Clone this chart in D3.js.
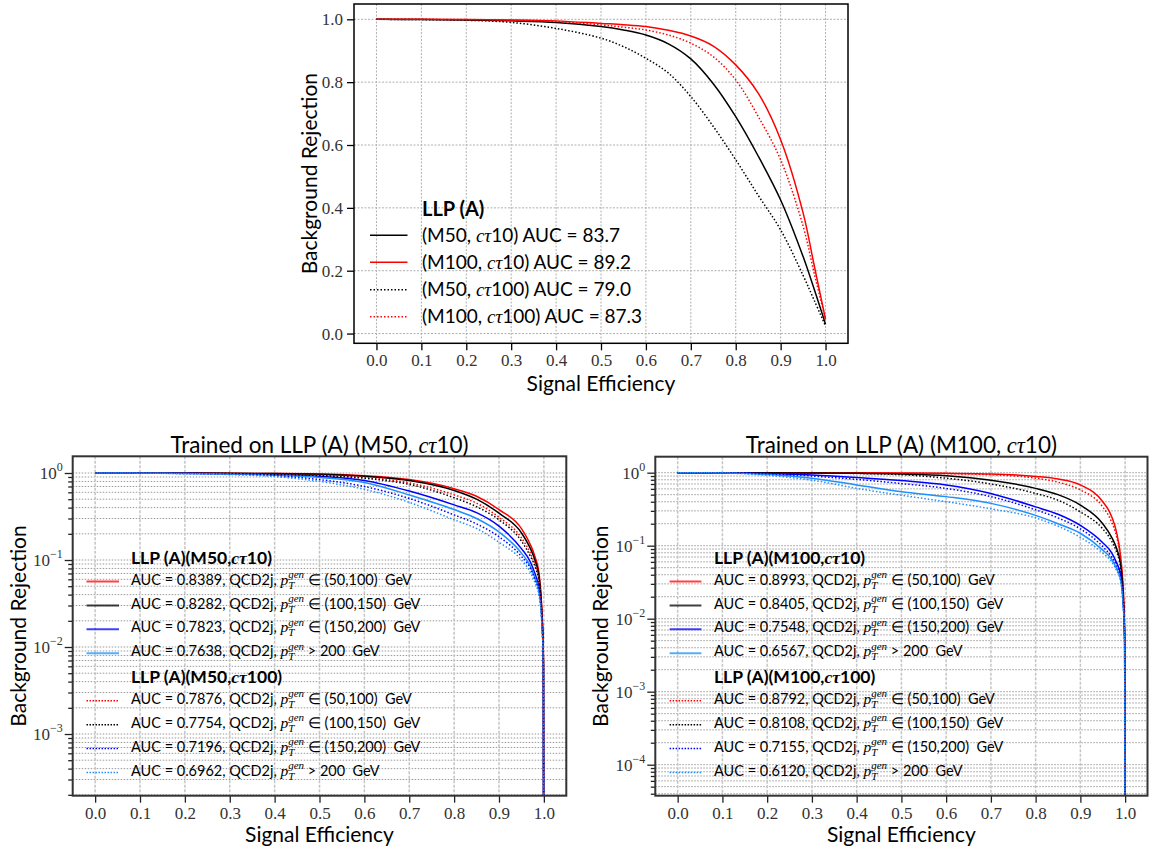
<!DOCTYPE html>
<html><head><meta charset="utf-8">
<script src="https://cdn.jsdelivr.net/npm/d3@7"></script>
<style>body{margin:0;background:#fff}svg text{white-space:pre}</style>
</head><body>
<svg id="c" width="1153" height="850" xmlns="http://www.w3.org/2000/svg"></svg>
<script>
const SANS = "Lato, 'Open Sans', sans-serif";
const SERIF = "'Liberation Serif', 'DejaVu Serif', serif";

// ---------- data: top panel ----------
const effTop = [0, 0.1, 0.2, 0.3, 0.4, 0.5, 0.55, 0.6, 0.65, 0.7, 0.75, 0.8, 0.85, 0.9, 0.95, 0.975, 1.0];
const rejM50ct10  = [1, 0.999, 0.998, 0.995, 0.99, 0.977, 0.966, 0.95, 0.922, 0.874, 0.795, 0.69, 0.565, 0.425, 0.245, 0.14, 0.03];
const rejM100ct10 = [1, 1, 0.999, 0.998, 0.995, 0.987, 0.983, 0.977, 0.965, 0.947, 0.915, 0.855, 0.765, 0.617, 0.384, 0.215, 0.045];
const rejM50ct100 = [1, 0.999, 0.997, 0.99, 0.971, 0.94, 0.913, 0.876, 0.829, 0.754, 0.659, 0.553, 0.44, 0.33, 0.185, 0.105, 0.024];
const rejM100ct100= [1, 1, 0.999, 0.997, 0.993, 0.982, 0.975, 0.966, 0.95, 0.924, 0.881, 0.807, 0.691, 0.553, 0.342, 0.19, 0.045];
const topLabels = [["(M50, ", "cτ", "10) AUC = 83.7"], ["(M100, ", "cτ", "10) AUC = 89.2"], ["(M50, ", "cτ", "100) AUC = 79.0"], ["(M100, ", "cτ", "100) AUC = 87.3"]];
const topTicksX = [0, 0.1, 0.2, 0.3, 0.4, 0.5, 0.6, 0.7, 0.8, 0.9, 1.0];
const topTicksY = [0, 0.2, 0.4, 0.6, 0.8, 1.0];

// ---------- data: bottom panels ----------
const effBot = [0, 0.1, 0.2, 0.3, 0.4, 0.5, 0.6, 0.7, 0.8, 0.85, 0.9, 0.95, 0.97, 0.98, 0.99, 0.995, 0.999, 1.0];
// trained on M50 ct10
const m50_ct10_pt50  = [1, 0.999, 0.997, 0.993, 0.986, 0.972, 0.93, 0.84, 0.66, 0.54, 0.38, 0.23, 0.15, 0.11, 0.065, 0.03, 0.008, 1e-7];
const m50_ct10_pt100 = [1, 0.999, 0.997, 0.992, 0.984, 0.968, 0.92, 0.82, 0.63, 0.50, 0.345, 0.205, 0.135, 0.10, 0.06, 0.028, 0.007, 1e-7];
const m50_ct10_pt150 = [1, 0.998, 0.993, 0.982, 0.96, 0.915, 0.82, 0.62, 0.43, 0.35, 0.245, 0.135, 0.095, 0.07, 0.045, 0.024, 0.006, 1e-7];
const m50_ct10_pt200 = [1, 0.997, 0.99, 0.975, 0.945, 0.89, 0.78, 0.56, 0.38, 0.30, 0.21, 0.12, 0.085, 0.063, 0.04, 0.022, 0.006, 1e-7];
const m50_ct100_pt50  = [1, 0.998, 0.994, 0.986, 0.972, 0.945, 0.89, 0.77, 0.56, 0.45, 0.31, 0.18, 0.12, 0.09, 0.055, 0.027, 0.007, 1e-7];
const m50_ct100_pt100 = [1, 0.998, 0.993, 0.984, 0.967, 0.935, 0.87, 0.74, 0.52, 0.41, 0.29, 0.165, 0.11, 0.085, 0.052, 0.026, 0.007, 1e-7];
const m50_ct100_pt150 = [1, 0.997, 0.988, 0.97, 0.93, 0.84, 0.70, 0.51, 0.33, 0.26, 0.185, 0.11, 0.08, 0.06, 0.04, 0.022, 0.006, 1e-7];
const m50_ct100_pt200 = [1, 0.996, 0.985, 0.96, 0.91, 0.80, 0.65, 0.46, 0.29, 0.23, 0.16, 0.10, 0.072, 0.055, 0.037, 0.02, 0.006, 1e-7];
// trained on M100 ct10
const m100_ct10_pt50  = [1, 1, 0.999, 0.998, 0.995, 0.99, 0.98, 0.96, 0.89, 0.82, 0.68, 0.40, 0.25, 0.16, 0.07, 0.03, 0.006, 1e-7];
const m100_ct10_pt100 = [1, 0.999, 0.997, 0.993, 0.985, 0.96, 0.91, 0.79, 0.61, 0.50, 0.36, 0.20, 0.13, 0.095, 0.055, 0.025, 0.005, 1e-7];
const m100_ct10_pt150 = [1, 0.998, 0.975, 0.93, 0.86, 0.78, 0.68, 0.52, 0.34, 0.27, 0.19, 0.11, 0.08, 0.06, 0.04, 0.02, 0.005, 1e-7];
const m100_ct10_pt200 = [1, 0.995, 0.95, 0.84, 0.68, 0.55, 0.47, 0.38, 0.26, 0.20, 0.148, 0.087, 0.065, 0.05, 0.034, 0.018, 0.005, 1e-7];
const m100_ct100_pt50  = [1, 1, 0.999, 0.997, 0.993, 0.985, 0.97, 0.94, 0.84, 0.74, 0.58, 0.34, 0.21, 0.14, 0.065, 0.028, 0.006, 1e-7];
const m100_ct100_pt100 = [1, 0.999, 0.996, 0.99, 0.975, 0.94, 0.84, 0.70, 0.52, 0.42, 0.29, 0.17, 0.115, 0.085, 0.05, 0.024, 0.005, 1e-7];
const m100_ct100_pt150 = [1, 0.997, 0.97, 0.90, 0.81, 0.71, 0.61, 0.47, 0.31, 0.24, 0.17, 0.097, 0.07, 0.055, 0.036, 0.019, 0.005, 1e-7];
const m100_ct100_pt200 = [1, 0.99, 0.92, 0.79, 0.61, 0.49, 0.40, 0.32, 0.24, 0.185, 0.13, 0.079, 0.06, 0.047, 0.032, 0.017, 0.005, 1e-7];

const aucM50  = ["0.8389", "0.8282", "0.7823", "0.7638", "0.7876", "0.7754", "0.7196", "0.6962"];
const aucM100 = ["0.8993", "0.8405", "0.7548", "0.6567", "0.8792", "0.8108", "0.7155", "0.6120"];
const ptBins = ["∈ (50,100)", "∈ (100,150)", "∈ (150,200)", "> 200"];
const binColors = ["#ff0000", "#000000", "#0000ff", "#1e90ff"];
const botTicksX = [0, 0.1, 0.2, 0.3, 0.4, 0.5, 0.6, 0.7, 0.8, 0.9, 1.0];

// ---------- helpers ----------
const svg = d3.select("#c");

function rich(g, x, y, parts, anchor) {
  const grp = g.append("g");
  let cx = 0, lastX = 0;
  parts.forEach(p => {
    const px = p.stack ? lastX : cx;
    const el = grp.append("text").attr("x", px).attr("y", p.shift || 0)
      .attr("xml:space", "preserve")
      .style("font-family", p.f === "serif" ? SERIF : SANS)
      .style("font-size", p.size + "px")
      .style("font-weight", p.bold ? "bold" : "normal")
      .style("font-style", p.italic ? "italic" : "normal")
      .attr("fill", p.color || "#000")
      .text(p.t);
    const w = el.node().getComputedTextLength();
    if (p.stack) { cx = Math.max(cx, px + w); }
    else { lastX = px; cx = px + w; }
  });
  let tx = x;
  if (anchor === "middle") tx = x - cx / 2;
  if (anchor === "end") tx = x - cx;
  grp.attr("transform", `translate(${tx},${y})`);
  return grp;
}

function makeClip(id, L, R, T, B) {
  svg.append("clipPath").attr("id", id).append("rect")
    .attr("x", L).attr("y", T).attr("width", R - L).attr("height", B - T);
}

// ---------- TOP PANEL ----------
(function () {
  const L = 354, R = 848, T = 4, B = 343.3;
  const x = d3.scaleLinear().domain([-0.05, 1.05]).range([L, R]);
  const y = d3.scaleLinear().domain([-0.031, 1.0487]).range([B, T]);
  const g = svg.append("g");
  makeClip("clipTop", L, R, T, B);
  g.selectAll(".gx").data(topTicksX).enter().append("line")
    .attr("x1", d => x(d)).attr("x2", d => x(d)).attr("y1", T).attr("y2", B)
    .attr("stroke", "#b0b0b0").attr("stroke-width", 1).attr("stroke-dasharray", "2,1.5");
  g.selectAll(".gy").data(topTicksY).enter().append("line")
    .attr("y1", d => y(d)).attr("y2", d => y(d)).attr("x1", L).attr("x2", R)
    .attr("stroke", "#b0b0b0").attr("stroke-width", 1).attr("stroke-dasharray", "2,1.5");
  const ax = g.append("g").attr("transform", `translate(0,${B})`)
    .call(d3.axisBottom(x).tickValues(topTicksX).tickFormat(d3.format(".1f")).tickSize(7).tickPadding(4));
  const ay = g.append("g").attr("transform", `translate(${L},0)`)
    .call(d3.axisLeft(y).tickValues(topTicksY).tickFormat(d3.format(".1f")).tickSize(7).tickPadding(4));
  [ax, ay].forEach(a => {
    a.select(".domain").remove();
    a.selectAll(".tick line").attr("stroke", "#000").attr("stroke-width", 1.3);
    a.selectAll(".tick text").style("font-family", SERIF).style("font-size", "17px").attr("fill", "#333");
  });
  const series = [
    { v: rejM50ct10, c: "#000000", dash: null },
    { v: rejM100ct10, c: "#ff0000", dash: null },
    { v: rejM50ct100, c: "#000000", dash: "1.5,2" },
    { v: rejM100ct100, c: "#ff0000", dash: "1.5,2" }
  ];
  const line = d3.line().x(d => x(d[0])).y(d => y(d[1])).curve(d3.curveCatmullRom.alpha(0.5));
  const cg = g.append("g").attr("clip-path", "url(#clipTop)");
  series.forEach(s => {
    cg.append("path").attr("d", line(effTop.map((e, i) => [e, s.v[i]])))
      .attr("fill", "none").attr("stroke", s.c).attr("stroke-width", 1.5)
      .attr("stroke-dasharray", s.dash);
  });
  g.append("rect").attr("x", L).attr("y", T).attr("width", R - L).attr("height", B - T)
    .attr("fill", "none").attr("stroke", "#000").attr("stroke-width", 1.5);
  g.append("text").attr("x", (L + R) / 2).attr("y", 390.5).attr("text-anchor", "middle")
    .style("font-family", SANS).style("font-size", "21px").text("Signal Efficiency");
  g.append("text").attr("transform", `translate(317,${(T + B) / 2}) rotate(-90)`).attr("text-anchor", "middle")
    .style("font-family", SANS).style("font-size", "21px").text("Background Rejection");
  rich(g, 422, 216, [{ t: "LLP (A)", size: 20, bold: true }]);
  const ly = [235.3, 262.3, 289.7, 316.7];
  series.forEach((s, i) => {
    g.append("line").attr("x1", 370).attr("x2", 407.5).attr("y1", ly[i]).attr("y2", ly[i])
      .attr("stroke", s.c).attr("stroke-width", 1.5).attr("stroke-dasharray", s.dash);
    const lb = topLabels[i];
    rich(g, 422, ly[i] + 6.5, [
      { t: lb[0], size: 19 },
      { t: lb[1], size: 19, f: "serif", italic: true },
      { t: lb[2], size: 19 }
    ]);
  });
})();

// ---------- BOTTOM PANELS ----------
function bottomPanel(cfg) {
  const { L, R, T, B, yMin, yMax, majors, title, aucs, data, id, leg, modelTag } = cfg;
  const x = d3.scaleLinear().domain([-0.05, 1.05]).range([L, R]);
  const y = d3.scaleLog().domain([yMin, yMax]).range([B, T]);
  const g = svg.append("g");
  makeClip(id, L, R, T, B);
  const minors = [];
  const lo = Math.floor(Math.log10(yMin)), hi = Math.ceil(Math.log10(yMax));
  for (let k = lo; k <= hi; k++) for (let m = 2; m <= 9; m++) {
    const v = m * Math.pow(10, k);
    if (v >= yMin && v <= yMax) minors.push(v);
  }
  g.selectAll(".gym").data(minors.concat(majors)).enter().append("line")
    .attr("y1", d => y(d)).attr("y2", d => y(d)).attr("x1", L).attr("x2", R)
    .attr("stroke", "#9a9a9a").attr("stroke-width", 1).attr("stroke-dasharray", "1.5,1.5");
  g.selectAll(".gx").data(botTicksX).enter().append("line")
    .attr("x1", d => x(d)).attr("x2", d => x(d)).attr("y1", T).attr("y2", B)
    .attr("stroke", "#c4c4c4").attr("stroke-width", 1.5).attr("stroke-dasharray", "3,1.5");
  const ax = g.append("g").attr("transform", `translate(0,${B})`)
    .call(d3.axisBottom(x).tickValues(botTicksX).tickFormat(d3.format(".1f")).tickSize(7).tickPadding(4));
  const ay = g.append("g").attr("transform", `translate(${L},0)`)
    .call(d3.axisLeft(y).tickValues(majors).tickFormat("").tickSize(8));
  const aym = g.append("g").attr("transform", `translate(${L},0)`)
    .call(d3.axisLeft(y).tickValues(minors).tickFormat("").tickSize(4.5));
  [ax, ay, aym].forEach(a => {
    a.select(".domain").remove();
    a.selectAll(".tick line").attr("stroke", "#222").attr("stroke-width", 1.3);
    a.selectAll(".tick text").style("font-family", SERIF).style("font-size", "17px").attr("fill", "#333");
  });
  majors.forEach(v => {
    const e = Math.round(Math.log10(v));
    rich(g, L - 10, y(v) + 6, [
      { t: "10", f: "serif", size: 17, color: "#333" },
      { t: e === 0 ? "0" : "−" + (-e), f: "serif", size: 12, shift: -8, color: "#333" }
    ], "end");
  });
  const line = d3.line().x(d => x(d[0])).y(d => y(d[1])).curve(d3.curveMonotoneX);
  const cg = g.append("g").attr("clip-path", `url(#${id})`);
  data.forEach((v, i) => {
    cg.append("path").attr("d", line(effBot.map((e, j) => [e, v[j]])))
      .attr("fill", "none").attr("stroke", binColors[i % 4]).attr("stroke-width", 1.5)
      .attr("stroke-dasharray", i >= 4 ? "1.5,2" : null);
  });
  g.append("rect").attr("x", L).attr("y", T).attr("width", R - L).attr("height", B - T)
    .attr("fill", "none").attr("stroke", "#333").attr("stroke-width", 2);
  rich(g, (L + R) / 2, 453, [
    { t: title, size: 22.5 },
    { t: "cτ", size: 22.5, f: "serif", italic: true },
    { t: "10)", size: 22.5 }
  ], "middle");
  g.append("text").attr("x", (L + R) / 2).attr("y", 842).attr("text-anchor", "middle")
    .style("font-family", SANS).style("font-size", "21px").text("Signal Efficiency");
  g.append("text").attr("transform", `translate(${cfg.yLabX},${(T + B) / 2}) rotate(-90)`).attr("text-anchor", "middle")
    .style("font-family", SANS).style("font-size", "21px").text("Background Rejection");
  const rows = [579, 603, 626.7, 650.7, 698.3, 722.3, 746, 770];
  const heads = [557.7, 677.3];
  ["10)", "100)"].forEach((ct, k) => {
    rich(g, leg.text, heads[k] + 6, [
      { t: "LLP (A)(" + modelTag + ",", size: 17.5, bold: true },
      { t: "cτ", size: 17.5, f: "serif", italic: true, bold: true },
      { t: ct, size: 17.5, bold: true }
    ]);
  });
  rows.forEach((ry, i) => {
    g.append("line").attr("x1", leg.x1).attr("x2", leg.x2).attr("y1", ry + 2.5).attr("y2", ry + 2.5)
      .attr("stroke", binColors[i % 4]).attr("stroke-width", i >= 4 ? 1.5 : 2)
      .attr("stroke-dasharray", i >= 4 ? "1.5,1.5" : null).attr("stroke-opacity", i < 4 ? 0.75 : 1);
    rich(g, leg.text, ry + 5.5, [
      { t: "AUC = " + aucs[i] + ", QCD2j, ", size: 14.5 },
      { t: "p", size: 15.5, f: "serif", italic: true },
      { t: "T", size: 11, f: "serif", italic: true, shift: 4 },
      { t: "gen", size: 11, f: "serif", italic: true, shift: -6.5, stack: true },
      { t: " " + ptBins[i % 4] + "  GeV", size: 14.5 }
    ]);
  });
}

bottomPanel({
  id: "clipBL", L: 72.7, R: 566.3, T: 456.3, B: 795.7, yMin: 1.954e-4, yMax: 1.556,
  majors: [1, 0.1, 0.01, 0.001], title: "Trained on LLP (A) (M50, ", aucs: aucM50,
  data: [m50_ct10_pt50, m50_ct10_pt100, m50_ct10_pt150, m50_ct10_pt200, m50_ct100_pt50, m50_ct100_pt100, m50_ct100_pt150, m50_ct100_pt200],
  leg: { x1: 86.5, x2: 119, text: 131 }, modelTag: "M50", yLabX: 26
});
bottomPanel({
  id: "clipBR", L: 655.3, R: 1147.5, T: 456.7, B: 795.7, yMin: 3.76e-5, yMax: 1.656,
  majors: [1, 0.1, 0.01, 0.001, 0.0001], title: "Trained on LLP (A) (M100, ", aucs: aucM100,
  data: [m100_ct10_pt50, m100_ct10_pt100, m100_ct10_pt150, m100_ct10_pt200, m100_ct100_pt50, m100_ct100_pt100, m100_ct100_pt150, m100_ct100_pt200],
  leg: { x1: 669.6, x2: 701.4, text: 714 }, modelTag: "M100", yLabX: 608
});
</script>
</body></html>
